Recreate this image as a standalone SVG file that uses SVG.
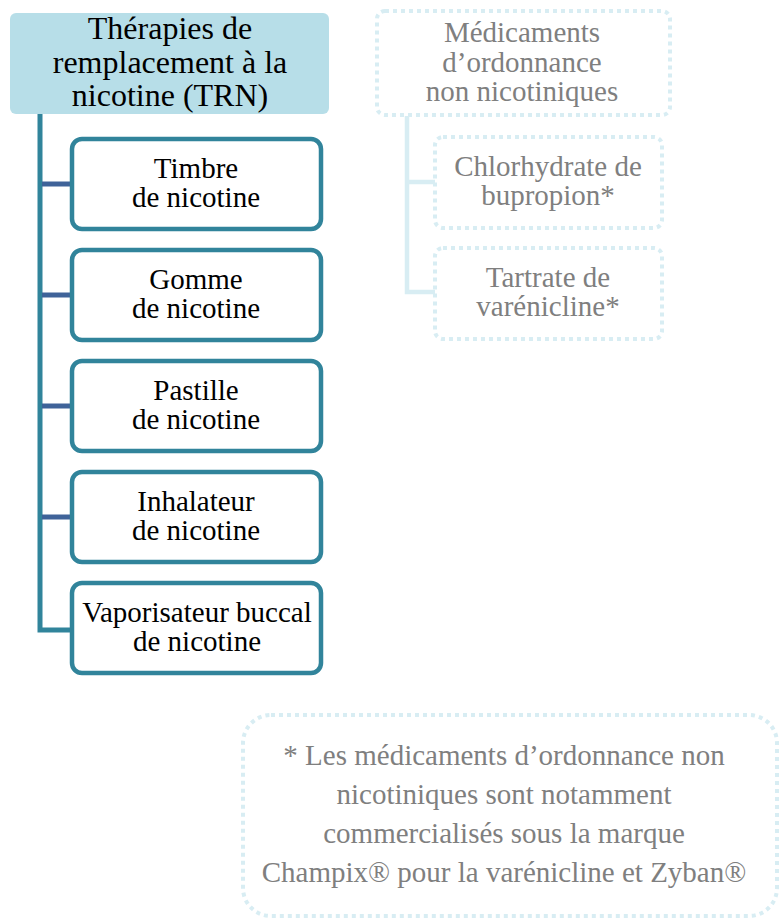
<svg xmlns="http://www.w3.org/2000/svg" width="780" height="918" viewBox="0 0 780 918">
<style>
.t{text-anchor:middle;}
.blk{fill:#000;font-size:29px;}
.gry{fill:#7f7f7f;font-size:29px;}
.box{fill:#fff;stroke:#31849b;stroke-width:4.5;}
.dot{fill:#fff;stroke:#d8edf3;stroke-width:4;stroke-dasharray:4 4;}
.cn{stroke:#3f6399;stroke-width:5;fill:none;}
</style>
<rect width="780" height="918" fill="#fff"/>
<g id="connectors">
<path d="M40 114 V630 H72" fill="none" stroke="#31849b" stroke-width="5"/>
<line class="cn" x1="42" y1="184" x2="72" y2="184"/>
<line class="cn" x1="42" y1="295" x2="72" y2="295"/>
<line class="cn" x1="42" y1="406" x2="72" y2="406"/>
<line class="cn" x1="42" y1="517" x2="72" y2="517"/>
<path d="M407 116 V292 H435 M407 182 H435" fill="none" stroke="#d8edf3" stroke-width="4.5"/>
</g>
<g font-family="Liberation Serif, Times New Roman, DejaVu Serif, serif">
<g id="trn">
<rect x="10" y="13" width="319" height="101" rx="6" fill="#b7dee8"/>
<text class="t" x="170" y="39" font-size="32">Thérapies de</text>
<text class="t" x="170" y="73" font-size="32">remplacement à la</text>
<text class="t" x="170" y="106" font-size="32">nicotine (TRN)</text>
</g>
<g id="timbre">
<rect class="box" x="72" y="139" width="249" height="90" rx="10"/>
<text class="t blk" x="196" y="178">Timbre</text>
<text class="t blk" x="196" y="207">de nicotine</text>
</g>
<g id="gomme">
<rect class="box" x="72" y="250" width="249" height="90" rx="10"/>
<text class="t blk" x="196" y="289">Gomme</text>
<text class="t blk" x="196" y="318">de nicotine</text>
</g>
<g id="pastille">
<rect class="box" x="72" y="361" width="249" height="90" rx="10"/>
<text class="t blk" x="196" y="400">Pastille</text>
<text class="t blk" x="196" y="429">de nicotine</text>
</g>
<g id="inhalateur">
<rect class="box" x="72" y="472" width="249" height="90" rx="10"/>
<text class="t blk" x="196" y="511">Inhalateur</text>
<text class="t blk" x="196" y="540">de nicotine</text>
</g>
<g id="vaporisateur">
<rect class="box" x="72" y="583" width="249" height="90" rx="10"/>
<text class="t blk" x="197" y="622">Vaporisateur buccal</text>
<text class="t blk" x="197" y="651">de nicotine</text>
</g>
<g id="medicaments">
<rect class="dot" x="377" y="11" width="293" height="104" rx="8"/>
<text class="t gry" x="522" y="42">Médicaments</text>
<text class="t gry" x="522" y="72">d’ordonnance</text>
<text class="t gry" x="522" y="101">non nicotiniques</text>
</g>
<g id="bupropion">
<rect class="dot" x="435" y="137" width="227" height="91" rx="8"/>
<text class="t gry" x="548" y="176">Chlorhydrate de</text>
<text class="t gry" x="548" y="205">bupropion*</text>
</g>
<g id="varenicline">
<rect class="dot" x="435" y="248" width="227" height="91" rx="8"/>
<text class="t gry" x="548" y="287">Tartrate de</text>
<text class="t gry" x="548" y="316">varénicline*</text>
</g>
<g id="note">
<rect class="dot" x="243" y="715" width="534" height="201" rx="28"/>
<text class="t gry" x="504" y="765">* Les médicaments d’ordonnance non</text>
<text class="t gry" x="504" y="804">nicotiniques sont notamment</text>
<text class="t gry" x="504" y="843">commercialisés sous la marque</text>
<text class="t gry" x="504" y="882">Champix® pour la varénicline et Zyban®</text>
</g>
</g>
</svg>
